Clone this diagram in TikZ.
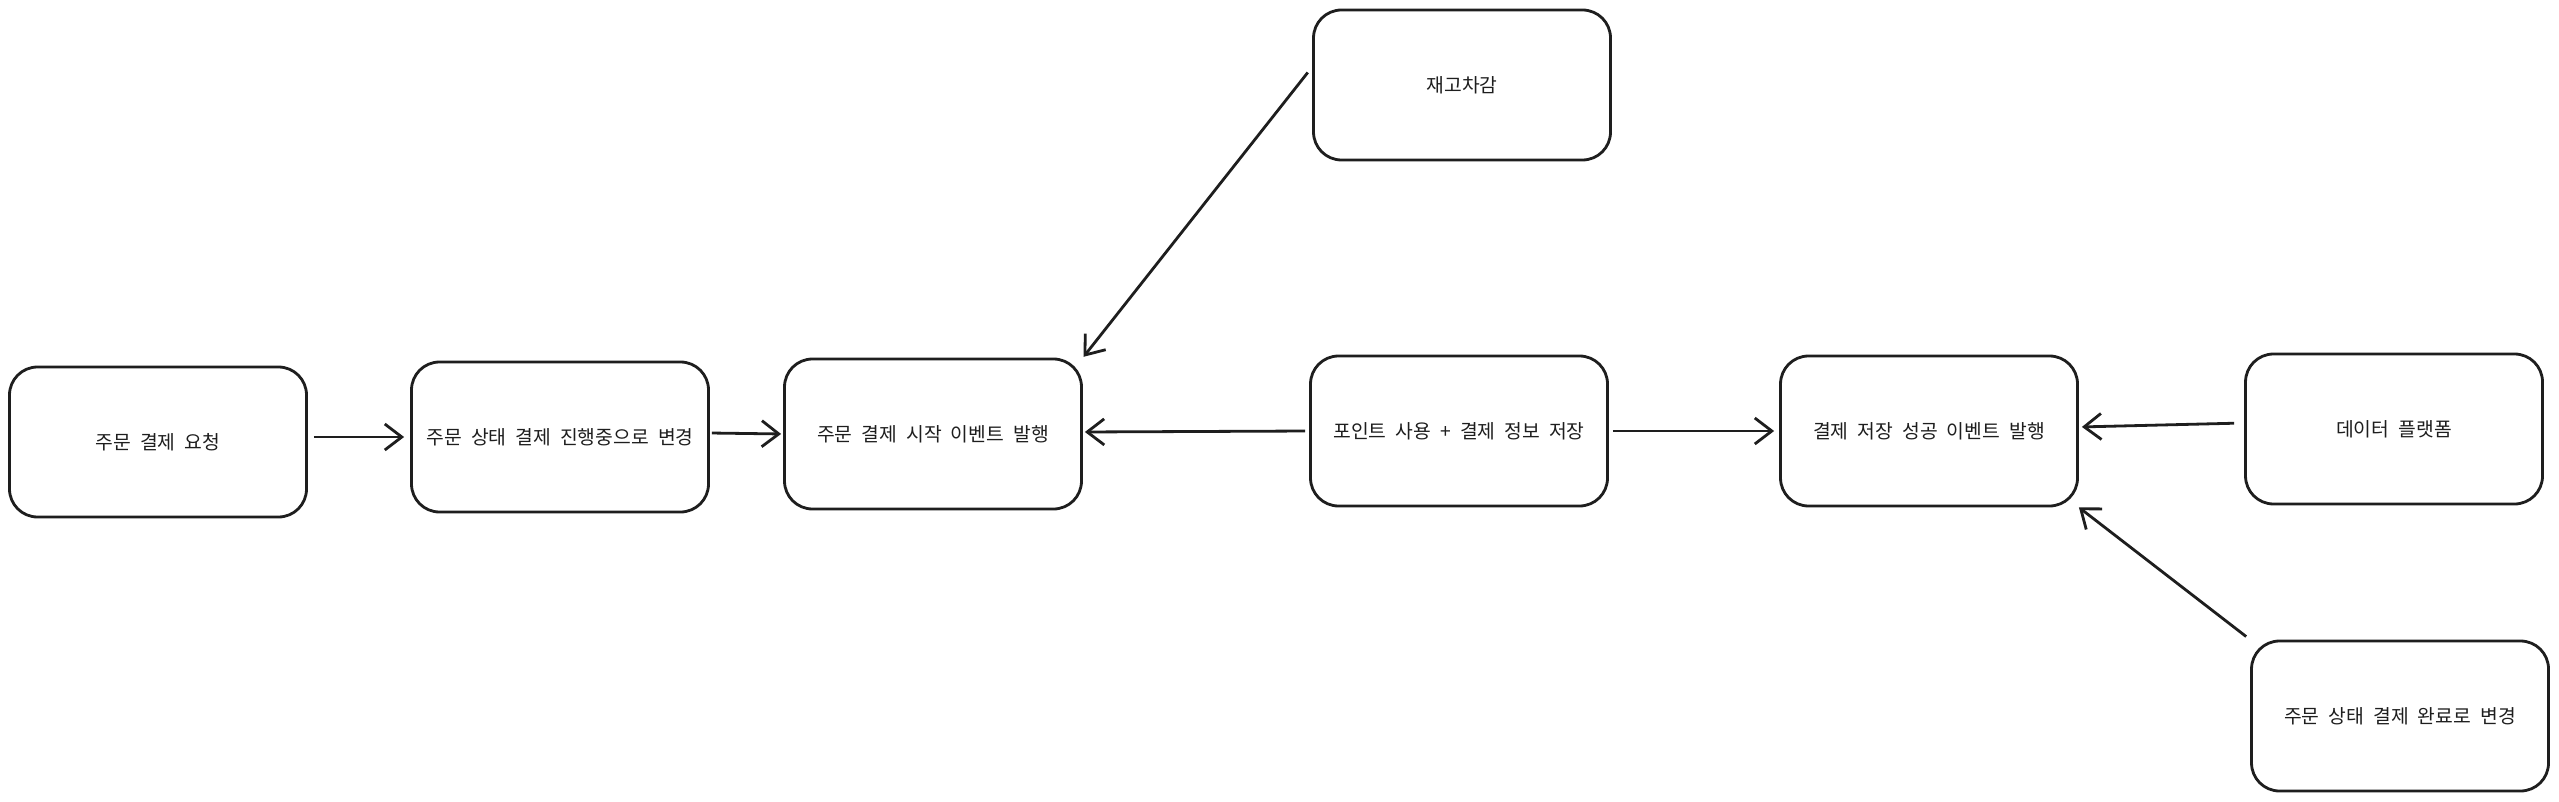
\documentclass[tikz,border=0pt]{standalone}
\usepackage{fontspec}
\setmainfont[WordSpace=2.1]{Noto Sans CJK KR}
\usetikzlibrary{arrows.meta}
\definecolor{ink}{HTML}{1E1E1E}
\begin{document}
\begin{tikzpicture}[x=1pt,y=-1pt,
  box/.style={draw=ink, line width=2.8pt, rounded corners=28pt,
    minimum width=297pt, minimum height=150pt, inner sep=0pt,
    font=\fontsize{19.3}{22}\selectfont, text=ink},
  arr/.style={draw=ink, line width=2.8pt,
    -{Straight Barb[length=17pt,width=26pt,line width=2.8pt]}}]
\useasboundingbox[fill=white] (0,0) rectangle (2559,802);

\node[box] (b1) at (158,442) {주문 결제 요청};
\node[box] (b2) at (560,437) {주문 상태 결제 진행중으로 변경};
\node[box] (b3) at (933,434) {주문 결제 시작 이벤트 발행};
\node[box] (b4) at (1462,85) {재고차감};
\node[box] (b5) at (1459,431) {포인트 사용 + 결제 정보 저장};
\node[box] (b6) at (1929,431) {결제 저장 성공 이벤트 발행};
\node[box] (b7) at (2394,429) {데이터 플랫폼};
\node[box] (b8) at (2400,716) {주문 상태 결제 완료로 변경};

\draw[arr, shorten <=6pt, shorten >=6pt] ([yshift=5pt]b1.east) -- (b2.west);
\draw[arr, shorten <=2pt, shorten >=2pt] ([yshift=4pt]b2.east) -- (b3.west);
\draw[arr, shorten <=7pt, shorten >=1pt] ([yshift=18pt]b4.west) -- (b3.north east);
\draw[arr, shorten <=4pt, shorten >=2pt] (b5.west) -- ([yshift=2pt]b3.east);
\draw[arr, shorten <=4pt, shorten >=5pt] (b5.east) -- (b6.west);
\draw[arr, shorten <=10pt, shorten >=3pt] ([yshift=6pt]b7.west) -- ([yshift=4pt]b6.east);
\draw[arr, shorten <=5pt, shorten >=0pt] (b8.north west) -- (b6.south east);
\end{tikzpicture}
\end{document}
